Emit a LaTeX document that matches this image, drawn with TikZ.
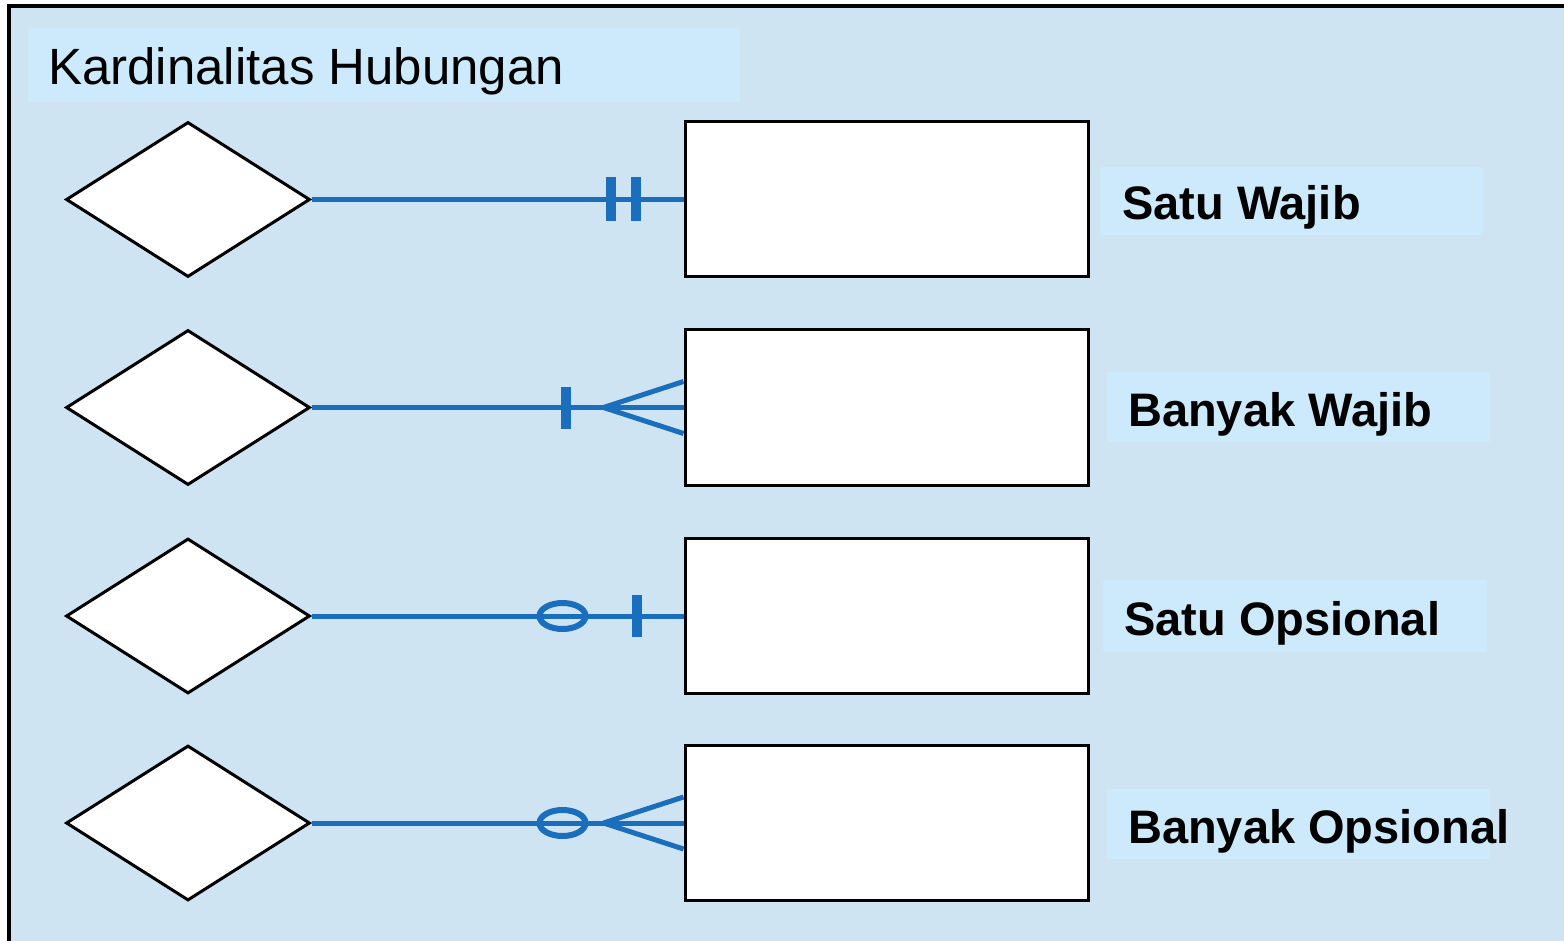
\documentclass[tikz,border=0pt]{standalone}
\usepackage{fontspec}
\setmainfont{Liberation Sans}
\usetikzlibrary{shapes.geometric}
\definecolor{bgblue}{RGB}{206,228,242}
\definecolor{lblblue}{RGB}{204,234,251}
\definecolor{lineblue}{RGB}{25,110,190}
\tikzset{
  ent/.style={draw=black, fill=white, line width=3pt, minimum width=403pt, minimum height=155pt, inner sep=0pt},
  rel/.style={diamond, draw=black, fill=white, line width=3pt, minimum width=244pt, minimum height=155pt, inner sep=0pt},
  conn/.style={draw=lineblue, line width=5pt},
  tick/.style={draw=lineblue, line width=10pt},
  zero/.style={draw=lineblue, line width=6pt},
  lbltext/.style={anchor=base west, inner sep=0pt, font=\fontsize{47}{50}\selectfont\bfseries},
}
\begin{document}
\begin{tikzpicture}[x=1pt,y=-1pt]
\useasboundingbox (0,0) rectangle (1564,941);
\fill[white] (0,0) rectangle (1564,941);
\fill[bgblue] (9,6) rectangle (1564,941);
\draw[black, line width=4pt] (9,941) -- (9,6) -- (1564,6);
% title
\fill[lblblue] (28,28) rectangle (740,102);
\node[anchor=base west, inner sep=0pt, font=\fontsize{51}{55}\selectfont] (title) at (48,85) {Kardinalitas Hubungan};
% label boxes
\fill[lblblue] (1100,167) rectangle (1483,235);
\fill[lblblue] (1107,372) rectangle (1490,442);
\fill[lblblue] (1103,580) rectangle (1487,652);
\fill[lblblue] (1107,789) rectangle (1490,859);
\node[lbltext] (l1) at (1122,220) {Satu Wajib};
\node[lbltext] (l2) at (1128,426) {Banyak Wajib};
\node[lbltext] (l3) at (1124,635) {Satu Opsional};
\node[lbltext] (l4) at (1128,843) {Banyak Opsional};
% relationships and entities
\foreach \i/\y in {1/199.5,2/407.5,3/616,4/823}{
  \node[rel] (d\i) at (188,\y) {};
  \node[ent] (e\i) at (886.5,\y) {};
  \draw[conn] (d\i.east) -- (e\i.west);
}
% row 1: one mandatory
\draw[tick] ([xshift=-73pt,yshift=22pt]e1.west) -- ([xshift=-73pt,yshift=-22pt]e1.west);
\draw[tick] ([xshift=-48pt,yshift=22pt]e1.west) -- ([xshift=-48pt,yshift=-22pt]e1.west);
% row 2: many mandatory
\draw[tick] ([xshift=-118pt,yshift=21pt]e2.west) -- ([xshift=-118pt,yshift=-21pt]e2.west);
\coordinate (a2) at ([xshift=-80pt]e2.west);
\draw[conn] (a2) -- ([yshift=26pt]e2.west);
\draw[conn] (a2) -- ([yshift=-26pt]e2.west);
% row 3: one optional
\draw[zero] ([xshift=-121pt]e3.west) ellipse [x radius=23pt, y radius=13pt];
\draw[tick] ([xshift=-47pt,yshift=21pt]e3.west) -- ([xshift=-47pt,yshift=-21pt]e3.west);
% row 4: many optional
\draw[zero] ([xshift=-121pt]e4.west) ellipse [x radius=23pt, y radius=13pt];
\coordinate (a4) at ([xshift=-80pt]e4.west);
\draw[conn] (a4) -- ([yshift=26pt]e4.west);
\draw[conn] (a4) -- ([yshift=-26pt]e4.west);
\end{tikzpicture}
\end{document}
